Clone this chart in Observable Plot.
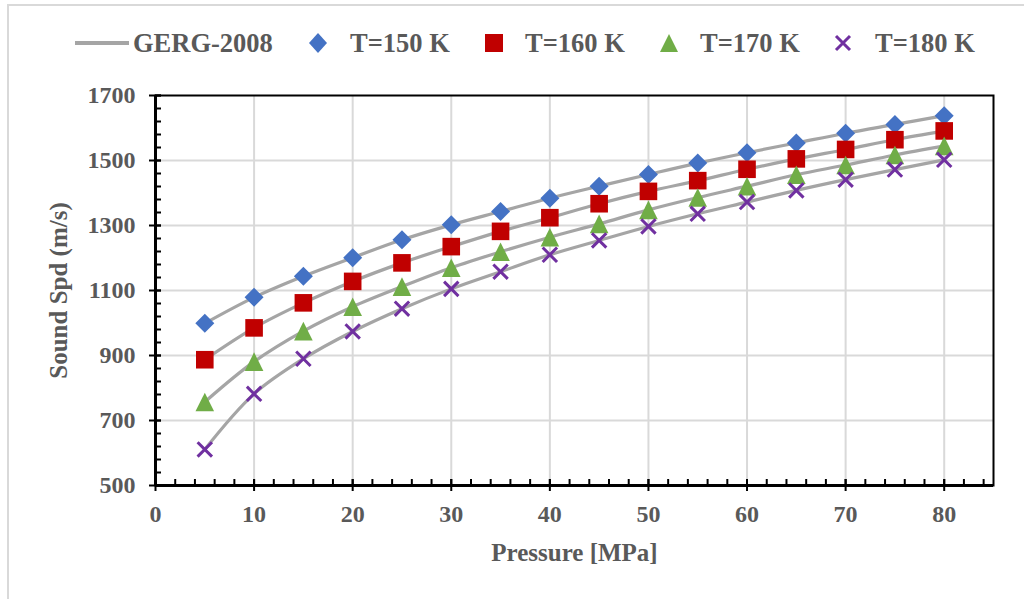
<!DOCTYPE html>
<html>
<head>
<meta charset="utf-8">
<script src="https://cdn.jsdelivr.net/npm/d3@7"></script>
<script src="https://cdn.jsdelivr.net/npm/@observablehq/plot@0.6"></script>
<style>
  html, body { margin: 0; padding: 0; background: #fff; }
  #wrap { position: relative; width: 1024px; height: 599px; overflow: hidden; font-family: "Liberation Serif", "Times New Roman", serif; font-weight: bold; color: #595959; }
  #border { position: absolute; left: 7px; top: 4px; width: 1100px; height: 700px; border-left: 2px solid #d9d9d9; border-top: 2px solid #d9d9d9; }
  #legend { position: relative; height: 80px; }
  .mk { position: absolute; top: 28px; display: block; }
  .lt { position: absolute; top: 25px; height: 36px; line-height: 36px; font-size: 26.5px; white-space: nowrap; }
  #chart { position: relative; }
</style>
</head>
<body>
<div id="wrap">
  <div id="border"></div>
  <div id="legend"></div>
  <div id="chart"></div>
</div>
<script>
// ---- data ----
const pressure = [5, 10, 15, 20, 25, 30, 35, 40, 45, 50, 55, 60, 65, 70, 75, 80];
const t150 = [999, 1079, 1144, 1201, 1256, 1302, 1343, 1384, 1421, 1457, 1492, 1524, 1554, 1584, 1611, 1638];
const t160 = [887, 985, 1062, 1128, 1185, 1235, 1282, 1324, 1367, 1405, 1438, 1473, 1505, 1534, 1564, 1591];
const t170 = [757, 881, 975, 1050, 1112, 1170, 1219, 1264, 1305, 1348, 1386, 1421, 1456, 1486, 1517, 1545];
const t180 = [611, 782, 890, 974, 1044, 1105, 1158, 1210, 1254, 1297, 1336, 1372, 1408, 1441, 1472, 1502];
const seriesNames = ["T=150 K", "T=160 K", "T=170 K", "T=180 K"];
const lineName = "GERG-2008";
const xTicks = [0, 10, 20, 30, 40, 50, 60, 70, 80];
const xMinorTicks = d3.range(0, 86, 2);
const yTicks = [500, 700, 900, 1100, 1300, 1500, 1700];
const yMinorTicks = d3.range(500, 1701, 40);
const xLabel = "Pressure [MPa]";
const yLabel = "Sound Spd (m/s)";

// ---- custom symbols (size = pi r^2) ----
const rOf = s => Math.sqrt(s / Math.PI);
const diamondSym = {draw(c, s) { const r = rOf(s); c.moveTo(0, -r); c.lineTo(r, 0); c.lineTo(0, r); c.lineTo(-r, 0); c.closePath(); }};
const squareSym = {draw(c, s) { const r = rOf(s); c.moveTo(-r, -r); c.lineTo(r, -r); c.lineTo(r, r); c.lineTo(-r, r); c.closePath(); }};
const triSym = {draw(c, s) { const r = rOf(s); c.moveTo(0, -r); c.lineTo(r, r); c.lineTo(-r, r); c.closePath(); }};
const timesSym = {draw(c, s) { const r = rOf(s); c.moveTo(-r, -r); c.lineTo(r, r); c.moveTo(r, -r); c.lineTo(-r, r); }};

const seriesVals = [t150, t160, t170, t180];
const styles = [
  {symbol: diamondSym, r: 9.5, fill: "#4472C4", stroke: "none", strokeWidth: 0},
  {symbol: squareSym, r: 8.8, fill: "#C00000", stroke: "none", strokeWidth: 0},
  {symbol: triSym, r: 9.3, fill: "#70AD47", stroke: "none", strokeWidth: 0},
  {symbol: timesSym, r: 7.2, fill: "none", stroke: "#7030A0", strokeWidth: 3}
];
const rows = seriesVals.map(vals => pressure.map((p, i) => ({p, v: vals[i]})));

const marks = [
  Plot.gridX(xTicks.slice(1), {stroke: "#d9d9d9", strokeOpacity: 1, strokeWidth: 2}),
  Plot.gridY(yTicks.slice(1, -1), {stroke: "#d9d9d9", strokeOpacity: 1, strokeWidth: 2}),
];
rows.forEach(d => marks.push(Plot.line(d, {x: "p", y: "v", curve: "catmull-rom", stroke: "#a5a5a5", strokeWidth: 3.2})));
rows.forEach((d, k) => {
  const s = styles[k];
  marks.push(Plot.dot(d, {x: "p", y: "v", symbol: s.symbol, r: s.r, fill: s.fill, stroke: s.stroke, strokeWidth: s.strokeWidth}));
});
marks.push(
  Plot.frame({stroke: "black", strokeWidth: 2}),
  Plot.ruleX([0], {stroke: "black", strokeWidth: 3}),
  Plot.ruleY([500], {stroke: "black", strokeWidth: 3}),
  Plot.axisX(xMinorTicks, {tickSize: -6, tickFormat: () => "", label: null, stroke: "black", strokeWidth: 2}),
  Plot.axisX(xTicks, {tickSize: -6, tickFormat: () => "", label: null, stroke: "black", strokeWidth: 2}),
  Plot.axisX(xTicks, {tickSize: 6, tickPadding: 13, stroke: "black", strokeWidth: 2, fill: "#595959", fontSize: 24, label: null}),
  Plot.axisY(yMinorTicks, {tickSize: -6, tickFormat: () => "", label: null, stroke: "black", strokeWidth: 2}),
  Plot.axisY(yTicks, {tickSize: -6, tickFormat: () => "", label: null, stroke: "black", strokeWidth: 2}),
  Plot.axisY(yTicks, {tickSize: 6, tickPadding: 14, stroke: "black", strokeWidth: 2, fill: "#595959", fontSize: 24, tickFormat: d => String(d), label: null}),
  Plot.text([xLabel], {text: d => d, frameAnchor: "bottom", dy: 75, fontSize: 25, fill: "#595959"}),
  Plot.text([yLabel], {text: d => d, frameAnchor: "left", textAnchor: "middle", dx: -97, rotate: -90, fontSize: 25, fill: "#595959"})
);

const chart = Plot.plot({
  width: 1024,
  height: 519,
  marginTop: 15,
  marginBottom: 114,
  marginLeft: 155,
  marginRight: 31,
  x: {domain: [0, 85]},
  y: {domain: [500, 1700]},
  style: {fontFamily: '"Liberation Serif", "Times New Roman", serif', fontWeight: "bold", fontSize: "24px", color: "#595959", background: "transparent", overflow: "visible"},
  marks
});
document.getElementById("chart").appendChild(chart);

// ---- legend ----
const legend = document.getElementById("legend");
function addItem(markerLeft, w, svgInner, textLeft, label) {
  const s = document.createElementNS("http://www.w3.org/2000/svg", "svg");
  s.setAttribute("class", "mk");
  s.setAttribute("width", w); s.setAttribute("height", 30);
  s.style.left = markerLeft + "px";
  s.innerHTML = svgInner;
  legend.appendChild(s);
  const t = document.createElement("div");
  t.className = "lt";
  t.style.left = textLeft + "px";
  t.textContent = label;
  legend.appendChild(t);
}
addItem(74, 56, `<line x1="1" y1="15" x2="55" y2="15" stroke="#a5a5a5" stroke-width="4"/>`, 133, lineName);
addItem(306, 24, `<path d="M12,5 L21,15 L12,25 L3,15 Z" fill="#4472C4"/>`, 350, seriesNames[0]);
addItem(482, 24, `<rect x="3" y="6" width="18" height="18" fill="#C00000"/>`, 525, seriesNames[1]);
addItem(657, 24, `<path d="M12,6 L21,24 L3,24 Z" fill="#70AD47"/>`, 700, seriesNames[2]);
addItem(831, 24, `<path d="M5,8 L19,22 M19,8 L5,22" stroke="#7030A0" stroke-width="3" fill="none"/>`, 875, seriesNames[3]);
</script>
</body>
</html>
